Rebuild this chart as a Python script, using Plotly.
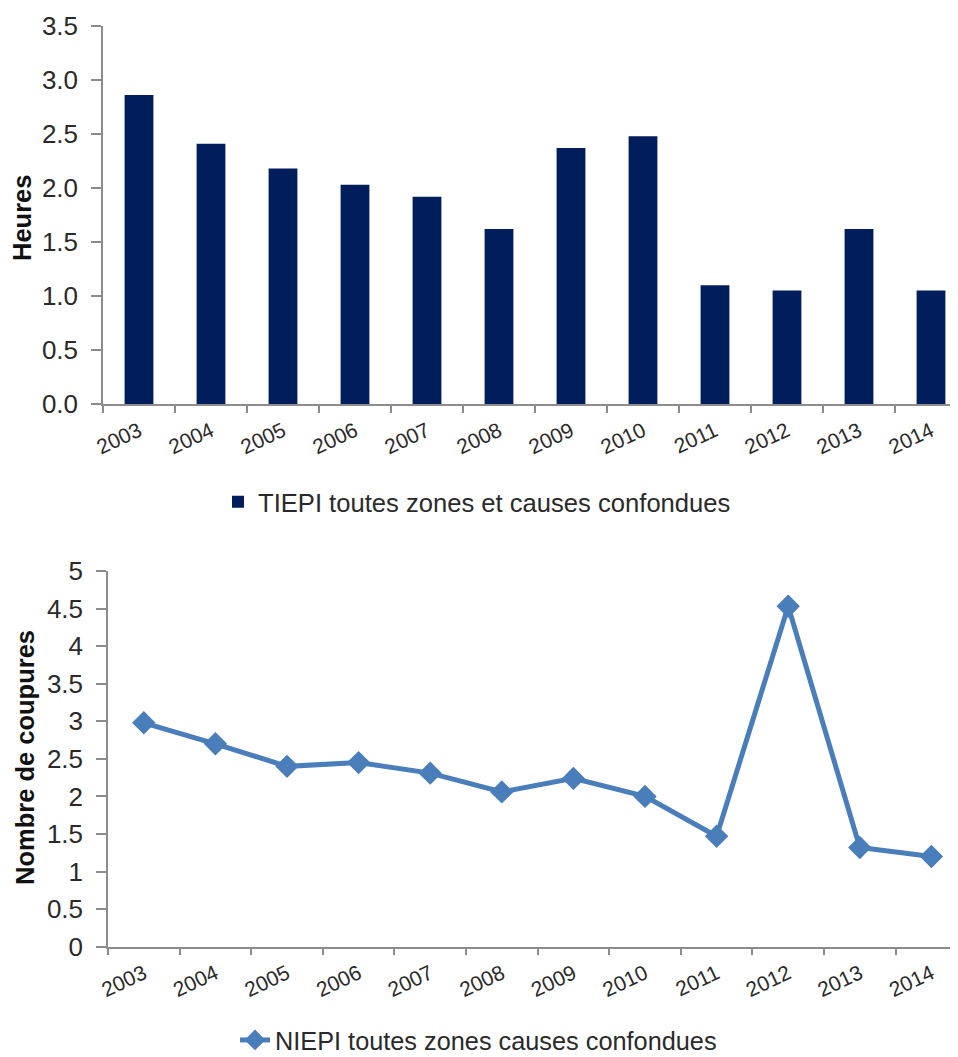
import plotly.graph_objects as go

years = ["2003", "2004", "2005", "2006", "2007", "2008", "2009", "2010", "2011", "2012", "2013", "2014"]
tiepi_heures = [2.86, 2.41, 2.18, 2.03, 1.92, 1.62, 2.37, 2.48, 1.10, 1.05, 1.62, 1.05]
niepi_coupures = [2.98, 2.70, 2.40, 2.45, 2.31, 2.06, 2.24, 2.00, 1.47, 4.53, 1.32, 1.20]

tiepi_name = "TIEPI toutes zones et causes confondues"
niepi_name = "NIEPI toutes zones causes confondues"
y1_title = "Heures"
y2_title = "Nombre de coupures"

W, H = 958, 1057
OFF = 8  # page body margin of the browser
FONT = "Liberation Sans, Arial, sans-serif"
TXT = "#2a2a2a"
AX = "#8c8c8c"


def px_x(v):
    return (v - OFF) / W


def px_y(v):
    return 1 - (v - OFF) / H


fig = go.Figure()
fig.add_trace(go.Bar(
    x=years, y=tiepi_heures, name=tiepi_name,
    marker=dict(color="#021d5b", line=dict(width=0)),
    width=0.4, xaxis="x", yaxis="y", legend="legend",
))
fig.add_trace(go.Scatter(
    x=years, y=niepi_coupures, name=niepi_name, mode="lines+markers",
    line=dict(color="#4a7ebb", width=5),
    marker=dict(symbol="diamond", size=18, color="#4a7ebb"),
    xaxis="x2", yaxis="y2", legend="legend2",
))

common_x = dict(
    type="category", tickson="boundaries",
    ticks="outside", ticklen=7, tickcolor=AX, tickwidth=1.5,
    showline=True, linecolor=AX, linewidth=1.5, showgrid=False, zeroline=False,
    tickangle=-25, tickfont=dict(family=FONT, size=21, color=TXT), automargin=False,
    ticklabelstandoff=5,
)
common_y = dict(
    ticks="outside", ticklen=10, tickcolor=AX, tickwidth=1.5,
    showline=True, linecolor=AX, linewidth=1.5, showgrid=False, zeroline=False,
    tickfont=dict(family=FONT, size=26, color=TXT), ticklabelstandoff=8,
    automargin=False,
)

fig.update_layout(
    width=W, height=H,
    margin=dict(l=0, r=0, t=0, b=0, pad=0),
    paper_bgcolor="white", plot_bgcolor="white",
    font=dict(family=FONT, color=TXT),
    showlegend=True,
    xaxis=dict(common_x, domain=[px_x(103), 1.0], range=[-0.5, -0.5 + (W + OFF - 103) / 72.0],
               anchor="y"),
    yaxis=dict(common_y, domain=[px_y(404), px_y(26)], range=[0, 3.5],
               dtick=0.5, tickformat=".1f", anchor="x"),
    xaxis2=dict(common_x, domain=[px_x(108), 1.0], range=[-0.5, -0.5 + (W + OFF - 108) / 71.6],
                anchor="y2"),
    yaxis2=dict(common_y, domain=[px_y(946.7), px_y(571)], range=[0, 5],
                dtick=0.5, anchor="x2"),
    legend=dict(x=210 / W, y=1 - 494 / H, xanchor="left", yanchor="middle",
                font=dict(family=FONT, size=25.6, color=TXT), bgcolor="rgba(0,0,0,0)"),
    legend2=dict(x=227 / W, y=1 - 1032 / H, xanchor="left", yanchor="middle",
                 font=dict(family=FONT, size=25.3, color=TXT), bgcolor="rgba(0,0,0,0)"),
    annotations=[
        dict(text="<b>%s</b>" % y1_title, x=px_x(22), y=px_y(218), xref="paper", yref="paper",
             xanchor="center", yanchor="middle",
             textangle=-90, showarrow=False, font=dict(family=FONT, size=25.5, color="#111")),
        dict(text="<b>%s</b>" % y2_title, x=px_x(25), y=px_y(758), xref="paper", yref="paper",
             xanchor="center", yanchor="middle",
             textangle=-90, showarrow=False, font=dict(family=FONT, size=25.5, color="#111")),
    ],
)

fig.write_html("out.html")
